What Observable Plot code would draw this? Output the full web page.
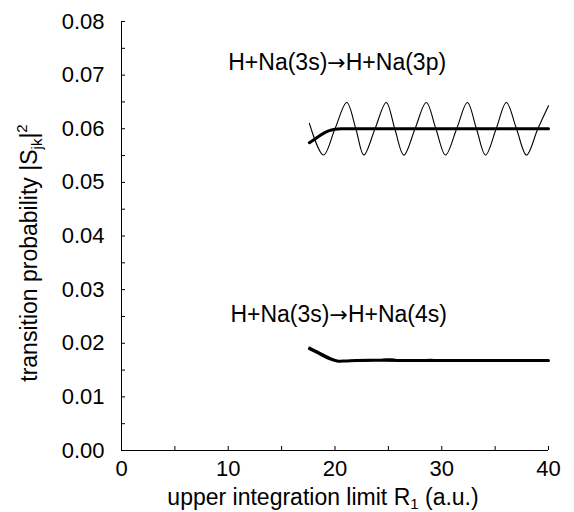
<!DOCTYPE html>
<html><head><meta charset="utf-8">
<script src="https://cdn.jsdelivr.net/npm/d3@7"></script>
<script src="https://cdn.jsdelivr.net/npm/@observablehq/plot@0.6"></script>
<style>
body{margin:0;background:#fff}
svg{font-family:"Liberation Sans",Arial,Helvetica,sans-serif}
</style>
</head><body><div id="chart"></div>
<script>
// tick values and labels
const xTicks = [0, 10, 20, 30, 40];
const xTickLabels = ["0", "10", "20", "30", "40"];
const xMinor = [0, 5, 10, 15, 20, 25, 30, 35, 40];
const yTicks = [0, 0.01, 0.02, 0.03, 0.04, 0.05, 0.06, 0.07, 0.08];
const yTickLabels = ["0.00", "0.01", "0.02", "0.03", "0.04", "0.05", "0.06", "0.07", "0.08"];
const yMinor = [0, 0.005, 0.01, 0.015, 0.02, 0.025, 0.03, 0.035, 0.04, 0.045, 0.05, 0.055, 0.06, 0.065, 0.07, 0.075, 0.08];

// H+Na(3s)->H+Na(3p): thin oscillating curve
const p3pThinX = [17.6, 18.92, 20.0, 21.1, 21.95, 22.7, 23.75, 24.8, 25.6, 26.45, 27.5, 28.55, 29.45, 30.35, 31.4, 32.4, 33.25, 34.1, 35.1, 36.05, 37.0, 37.94, 39.0, 40.0];
const p3pThinY = [0.0610, 0.0551, 0.0600, 0.0649, 0.0600, 0.0551, 0.0600, 0.0649, 0.0600, 0.0551, 0.0600, 0.0649, 0.0600, 0.0551, 0.0600, 0.0649, 0.0600, 0.0551, 0.0600, 0.0649, 0.0600, 0.0551, 0.0600, 0.0643];
// H+Na(3s)->H+Na(3p): thick smooth curve
const p3pThickX = [17.6, 18.2, 18.8, 19.4, 20.0, 20.6, 22, 26, 30, 34, 38, 40];
const p3pThickY = [0.0574, 0.0582, 0.0590, 0.0596, 0.0599, 0.0600, 0.0600, 0.0600, 0.0600, 0.0600, 0.0600, 0.0600];
// H+Na(3s)->H+Na(4s): thin curve
const p4sThinX = [17.6, 18.9, 20.3, 21.5, 23.2, 25.1, 27.0, 28.9, 30.8, 32.7, 34.6, 36.5, 38.4, 40];
const p4sThinY = [0.0193, 0.0180, 0.0167, 0.0166, 0.0167, 0.0171, 0.0166, 0.0170, 0.0167, 0.0169, 0.0167, 0.0169, 0.0167, 0.0168];
// H+Na(3s)->H+Na(4s): thick curve
const p4sThickX = [17.6, 18.5, 19.4, 20.2, 21.0, 22, 26, 30, 34, 38, 40];
const p4sThickY = [0.0190, 0.0181, 0.0172, 0.0167, 0.0167, 0.0168, 0.0168, 0.0168, 0.0168, 0.0168, 0.0168];

// annotations (left part, arrow, right part)
const annoLeft = ["H+Na(3s)", "H+Na(3s)"];
const annoArrow = ["\u2192", "\u2192"];
const annoRight = ["H+Na(3p)", "H+Na(4s)"];
const annoX = [10.0, 10.2];
const annoY = [0.0723, 0.0253];

const xTitleParts = ["upper integration limit R", "1", " (a.u.)"];
const yTitleParts = ["transition probability |S", "jk", "|", "2"];

const zip = (xs, ys) => xs.map((x, i) => ({x, y: ys[i]}));
const annos = annoLeft.map((t, i) => ({t: t + annoArrow[i] + annoRight[i], x: annoX[i], y: annoY[i]}));

const W = 574, H = 512, mL = 121, mR = 26, mT = 21, mB = 62;
const innerW = W - mL - mR, innerH = H - mT - mB;

const svg = Plot.plot({
  width: W, height: H,
  marginLeft: mL, marginRight: mR, marginTop: mT, marginBottom: mB,
  style: {background: "#fff", color: "#000", fontSize: "22px", fontFamily: '"Liberation Sans", Arial, Helvetica, sans-serif'},
  x: {domain: [0, 40]},
  y: {domain: [0, 0.08]},
  marks: [
    Plot.ruleX([0], {stroke: "#000", strokeWidth: 1}),
    Plot.ruleY([0], {stroke: "#000", strokeWidth: 1}),
    Plot.tickX(xMinor, {x: d => d, stroke: "#000", insetTop: innerH - 4}),
    Plot.tickY(yMinor, {y: d => d, stroke: "#000", insetRight: innerW - 4}),
    Plot.axisX(xTicks, {tickSize: 0, tickPadding: 10, label: null, tickFormat: d => xTickLabels[xTicks.indexOf(d)], fontSize: 22, fill: "#000"}),
    Plot.axisY(yTicks, {tickSize: 0, tickPadding: 17, label: null, tickFormat: d => yTickLabels[yTicks.indexOf(d)], fontSize: 22, fill: "#000"}),
    Plot.line(zip(p3pThinX, p3pThinY), {x: "x", y: "y", stroke: "#000", strokeWidth: 1.1, curve: "catmull-rom"}),
    Plot.line(zip(p3pThickX, p3pThickY), {x: "x", y: "y", stroke: "#000", strokeWidth: 3, curve: "catmull-rom"}),
    Plot.line(zip(p4sThinX, p4sThinY), {x: "x", y: "y", stroke: "#000", strokeWidth: 1.1, curve: "catmull-rom"}),
    Plot.line(zip(p4sThickX, p4sThickY), {x: "x", y: "y", stroke: "#000", strokeWidth: 3, curve: "catmull-rom"}),
    Plot.text(annos, {x: "x", y: "y", text: "t", textAnchor: "start", lineAnchor: "middle", fontSize: 23, fill: "#000", className: "anno"}),
    Plot.text([xTitleParts.join("")], {frameAnchor: "bottom", textAnchor: "middle", dx: -12, dy: 47, lineAnchor: "middle", fontSize: 23, fill: "#000", className: "xtitle"}),
    Plot.text([yTitleParts.join("")], {frameAnchor: "left", textAnchor: "middle", rotate: -90, dx: -92, dy: 17, lineAnchor: "middle", fontSize: 23, fill: "#000", className: "ytitle"})
  ]
});

const NS = "http://www.w3.org/2000/svg";
function rebuild(t, parts) {
  while (t.firstChild) t.removeChild(t.firstChild);
  for (const p of parts) {
    const ts = document.createElementNS(NS, "tspan");
    ts.textContent = p.s;
    if (p.dy) ts.setAttribute("dy", p.dy);
    if (p.size) ts.setAttribute("font-size", p.size);
    if (p.family) ts.setAttribute("font-family", p.family);
    t.appendChild(ts);
  }
}
const xt = svg.querySelector(".xtitle text");
if (xt) rebuild(xt, [{s: xTitleParts[0]}, {s: xTitleParts[1], dy: 4, size: 15}, {s: xTitleParts[2], dy: -4}]);
const yt = svg.querySelector(".ytitle text");
if (yt) rebuild(yt, [{s: yTitleParts[0]}, {s: yTitleParts[1], dy: 5, size: 15}, {s: yTitleParts[2], dy: -5}, {s: yTitleParts[3], dy: -10, size: 15}]);
svg.querySelectorAll(".anno text").forEach((t, i) => {
  rebuild(t, [{s: annoLeft[i]}, {s: annoArrow[i], family: "DejaVu Sans", size: 22}, {s: annoRight[i]}]);
});

document.getElementById("chart").appendChild(svg);
</script>
</body></html>
